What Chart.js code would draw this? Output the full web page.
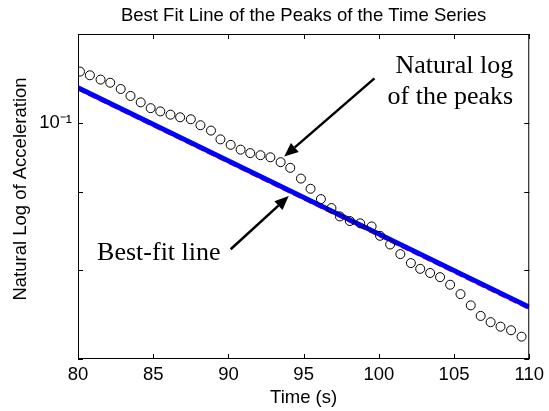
<!DOCTYPE html>
<html>
<head>
<meta charset="utf-8">
<script src="https://cdn.jsdelivr.net/npm/chart.js@4.4.0/dist/chart.umd.min.js"></script>
<style>
  html, body { margin: 0; padding: 0; background: #fff; }
  #wrap { width: 549px; height: 411px; }
</style>
</head>
<body>
<div id="wrap"><canvas id="chart" width="549" height="411"></canvas></div>
<script>
// peaks of the time series (time in s, value on log axis)
const peakTimes = [
  80.13, 80.79, 81.50, 82.14, 82.84, 83.49, 84.17, 84.83, 85.47, 86.15,
  86.79, 87.50, 88.14, 88.84, 89.47, 90.15, 90.81, 91.45, 92.13, 92.79,
  93.47, 94.11, 94.82, 95.46, 96.15, 96.85, 97.41, 98.07, 98.76, 99.52,
  100.08, 100.75, 101.43, 102.13, 102.75, 103.41, 104.07, 104.74, 105.43, 106.11,
  106.77, 107.43, 108.09, 108.79, 109.49
]
const peakValues = [
  0.1080, 0.1074, 0.1067, 0.1062, 0.1052, 0.1041, 0.1031, 0.1022, 0.1017, 0.1012,
  0.1008, 0.1005, 0.0996, 0.0988, 0.0975, 0.0967, 0.0960, 0.0955, 0.0952, 0.0949,
  0.0942, 0.0934, 0.0919, 0.0905, 0.0891, 0.0879, 0.0868, 0.0862, 0.0859, 0.0855,
  0.0843, 0.0832, 0.0820, 0.0809, 0.0802, 0.0797, 0.0792, 0.0783, 0.0772, 0.0759,
  0.0747, 0.0740, 0.0735, 0.0731, 0.0724
]

// best-fit line end points
const fitTimes = [80, 110]
const fitValues = [0.1054, 0.0757]
const fitValuesRed = [0.1053, 0.0756]

const xTicks = [80, 85, 90, 95, 100, 105, 110]
const yTicks = [0.07, 0.08, 0.09, 0.1]
const yTickLabels = ['', '', '', '10⁻¹']

const chartTitle = 'Best Fit Line of the Peaks of the Time Series'
const yTitle = 'Natural Log of Acceleration'

const toPoints = (xs, ys) => xs.map((x, i) => ({ x: x, y: ys[i] }))

// text callouts, anchored in data coordinates
const notes = [
  { text: 'Natural log', x: 108.93, y: 0.1077, align: 'right' },
  { text: 'of the peaks', x: 108.93, y: 0.1029, align: 'right' },
  { text: 'Best-fit line', x: 81.27, y: 0.0813, align: 'left' }
]
const arrows = [
  { from: [99.71, 0.1069], to: [93.71, 0.0950] },
  { from: [90.15, 0.0826], to: [94.01, 0.0895] }
]

const sansFont = "'Liberation Sans', Arial, sans-serif"
const serifFont = "'Liberation Serif', 'Times New Roman', serif"

// MATLAB style box with inward ticks on all four sides
const axisBox = {
  id: 'axisBox',
  afterDatasetsDraw(chart) {
    const { ctx, chartArea: a, scales: { x, y } } = chart
    const len = 5
    ctx.save()
    ctx.strokeStyle = '#000'
    ctx.lineWidth = 1
    ctx.strokeRect(a.left + 0.5, a.top + 0.5, a.right - a.left - 1, a.bottom - a.top - 1)
    ctx.beginPath()
    x.ticks.forEach(t => {
      const px = Math.round(x.getPixelForValue(t.value)) + 0.5
      ctx.moveTo(px, a.bottom); ctx.lineTo(px, a.bottom - len)
      ctx.moveTo(px, a.top); ctx.lineTo(px, a.top + len)
    })
    y.ticks.forEach(t => {
      const py = Math.round(y.getPixelForValue(t.value)) + 0.5
      ctx.moveTo(a.left, py); ctx.lineTo(a.left + len, py)
      ctx.moveTo(a.right, py); ctx.lineTo(a.right - len, py)
    })
    ctx.stroke()
    ctx.restore()
  }
}

// title centred over the axes and the rotated y label
const titles = {
  id: 'titles',
  afterDraw(chart) {
    const { ctx, chartArea: a } = chart
    ctx.save()
    ctx.fillStyle = '#000'
    ctx.font = '18.5px ' + sansFont
    ctx.textAlign = 'center'
    ctx.textBaseline = 'middle'
    ctx.fillText(chartTitle, (a.left + a.right) / 2, 16)
    ctx.translate(21, 189)
    ctx.rotate(-Math.PI / 2)
    ctx.fillText(yTitle, 0, 0)
    ctx.restore()
  }
}

const callouts = {
  id: 'callouts',
  afterDraw(chart) {
    const { ctx, scales: { x, y } } = chart
    ctx.save()
    ctx.fillStyle = '#000'
    ctx.strokeStyle = '#000'
    ctx.font = '26px ' + serifFont
    ctx.textBaseline = 'alphabetic'
    notes.forEach(n => {
      ctx.textAlign = n.align
      ctx.fillText(n.text, x.getPixelForValue(n.x), y.getPixelForValue(n.y))
    })
    arrows.forEach(ar => {
      const x0 = x.getPixelForValue(ar.from[0]), y0 = y.getPixelForValue(ar.from[1])
      const x1 = x.getPixelForValue(ar.to[0]), y1 = y.getPixelForValue(ar.to[1])
      const ang = Math.atan2(y1 - y0, x1 - x0)
      const headLen = 14, headHalf = 6
      const bx = x1 - headLen * Math.cos(ang), by = y1 - headLen * Math.sin(ang)
      ctx.lineWidth = 2.5
      ctx.beginPath()
      ctx.moveTo(x0, y0)
      ctx.lineTo(bx, by)
      ctx.stroke()
      ctx.beginPath()
      ctx.moveTo(x1, y1)
      ctx.lineTo(bx + headHalf * Math.sin(ang), by - headHalf * Math.cos(ang))
      ctx.lineTo(bx - headHalf * Math.sin(ang), by + headHalf * Math.cos(ang))
      ctx.closePath()
      ctx.fill()
    })
    ctx.restore()
  }
}

new Chart(document.getElementById('chart'), {
  type: 'scatter',
  data: {
    datasets: [
      {
        label: 'Natural log of the peaks',
        data: toPoints(peakTimes, peakValues),
        showLine: false,
        pointStyle: 'circle',
        pointRadius: 4.5,
        pointBorderWidth: 1,
        pointBorderColor: '#000',
        pointBackgroundColor: 'rgba(0,0,0,0)',
        order: 0
      },
      {
        label: 'Best-fit line',
        data: toPoints(fitTimes, fitValues),
        showLine: true,
        borderColor: '#0000ff',
        borderWidth: 5,
        pointRadius: 0,
        order: 1
      },
      {
        label: 'Fit (red)',
        data: toPoints(fitTimes, fitValuesRed),
        showLine: true,
        borderColor: '#ff0000',
        borderWidth: 4,
        borderDash: [8, 4],
        pointRadius: 0,
        order: 2
      }
    ]
  },
  options: {
    responsive: false,
    animation: false,
    layout: { padding: { right: 16, left: 0, top: 34, bottom: 0 } },
    plugins: {
      legend: { display: false },
      tooltip: { enabled: false },
      title: { display: false }
    },
    scales: {
      x: {
        type: 'linear',
        min: 80,
        max: 110,
        afterBuildTicks: s => { s.ticks = xTicks.map(v => ({ value: v })) },
        afterFit: s => { s.height = 52 },
        grid: { display: false, drawTicks: false },
        border: { display: false },
        ticks: {
          color: '#000',
          padding: 5,
          maxRotation: 0,
          font: { family: sansFont, size: 18.5 },
          callback: v => String(v)
        },
        title: {
          display: true,
          text: 'Time (s)',
          color: '#000',
          font: { family: sansFont, size: 18.5 },
          padding: { top: 0, bottom: 2 }
        }
      },
      y: {
        type: 'logarithmic',
        min: 0.07,
        max: 0.1143,
        afterBuildTicks: s => { s.ticks = yTicks.map(v => ({ value: v })) },
        afterFit: s => { s.width = 78 },
        grid: { display: false, drawTicks: false },
        border: { display: false },
        ticks: {
          color: '#000',
          padding: 6,
          font: { family: sansFont, size: 18.5 },
          callback: v => yTickLabels[yTicks.indexOf(v)] || ''
        }
      }
    }
  },
  plugins: [axisBox, titles, callouts]
})
</script>
</body>
</html>
